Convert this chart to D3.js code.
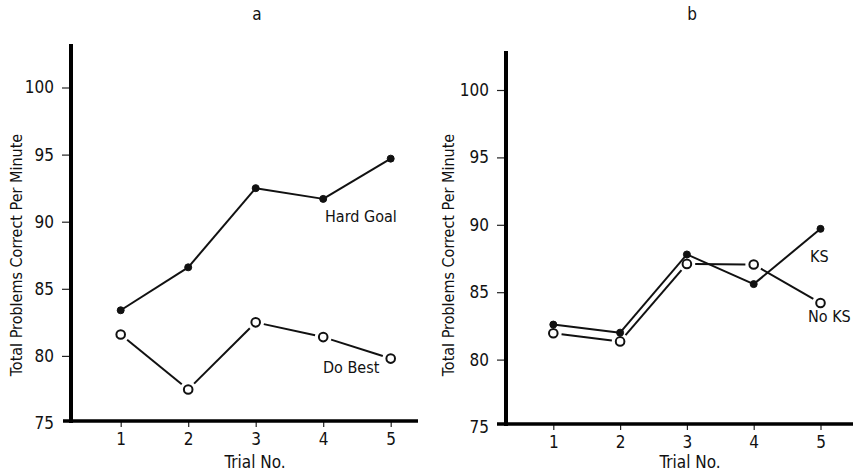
<!DOCTYPE html>
<html>
<head>
<meta charset="utf-8">
<script src="https://cdn.jsdelivr.net/npm/d3@7"></script>
<style>
  body { margin: 0; background: #fff; }
  svg text { font-family: "DejaVu Sans Condensed", "Liberation Sans Narrow", sans-serif; fill: #111; }
</style>
</head>
<body>
<div id="chart"></div>
<script>
let trials = [1, 2, 3, 4, 5];
let yTicks = [75, 80, 85, 90, 95, 100];
let hardGoal = [83.4, 86.6, 92.5, 91.7, 94.7];
let doBest = [81.6, 77.5, 82.5, 81.4, 79.8];
let ks = [82.6, 82.0, 87.8, 85.6, 89.7];
let noKs = [81.95, 81.35, 87.1, 87.05, 84.2];

let width = 853;
let height = 474;

let svg = d3.select('#chart').append('svg')
            .attr('width', width)
            .attr('height', height);

// each panel: own axis placement (scanned figure, not perfectly aligned)
let panels = [
  {title: 'a', titleX: 257, axisX: 71, top: 44, y0: 423, y1: 87.5, baseY: 421,
   xStart: 63, xEnd: 418, x1: 120.7, x5: 390.7, yTitleX: 16, trialX: 255,
   series: [
     {vals: hardGoal, open: false, label: 'Hard Goal', lx: 325, ly: 222},
     {vals: doBest, open: true, label: 'Do Best', lx: 323, ly: 373}
   ]},
  {title: 'b', titleX: 692, axisX: 506, top: 51, y0: 427, y1: 90, baseY: 424,
   xStart: 497, xEnd: 853, x1: 553.3, x5: 820.5, yTitleX: 448, trialX: 690,
   series: [
     {vals: ks, open: false, label: 'KS', lx: 810, ly: 262},
     {vals: noKs, open: true, label: 'No KS', lx: 808, ly: 322}
   ]}
];

panels.forEach(p => {
  let x = d3.scaleLinear().domain([1, 5]).range([p.x1, p.x5]);
  let y = d3.scaleLinear().domain([75, 100]).range([p.y0, p.y1]);
  let g = svg.append('g');

  g.append('text')
    .attr('x', p.titleX).attr('y', 20)
    .attr('text-anchor', 'middle')
    .attr('font-size', 17)
    .text(p.title);

  // y axis
  let yAxis = g.append('g')
    .attr('transform', `translate(${p.axisX - 2},0)`)
    .call(d3.axisLeft(y).tickValues(yTicks).tickSize(7).tickPadding(8));
  yAxis.select('.domain').remove();
  yAxis.selectAll('.tick line').attr('stroke', '#222').attr('stroke-width', 1.2);
  yAxis.selectAll('.tick').filter(d => d == 75).select('line').remove();
  yAxis.selectAll('.tick text').attr('font-size', 17).attr('fill', '#111');

  // x axis
  let xAxis = g.append('g')
    .attr('transform', `translate(0,${p.baseY + 1})`)
    .call(d3.axisBottom(x).tickValues(trials).tickFormat(d3.format('d'))
            .tickSize(5).tickPadding(6));
  xAxis.select('.domain').remove();
  xAxis.selectAll('.tick line').attr('stroke', '#222').attr('stroke-width', 1.2);
  xAxis.selectAll('.tick text').attr('font-size', 17).attr('fill', '#111');

  g.append('line')
    .attr('x1', p.axisX).attr('x2', p.axisX)
    .attr('y1', p.top).attr('y2', p.baseY + 2)
    .attr('stroke', '#000').attr('stroke-width', 4);
  g.append('line')
    .attr('x1', p.xStart).attr('x2', p.xEnd)
    .attr('y1', p.baseY).attr('y2', p.baseY)
    .attr('stroke', '#000').attr('stroke-width', 3.5);

  g.append('text')
    .attr('transform', `translate(${p.yTitleX},255) rotate(-90)`)
    .attr('text-anchor', 'middle')
    .attr('dominant-baseline', 'central')
    .attr('font-size', 16)
    .text('Total Problems Correct Per Minute');

  g.append('text')
    .attr('x', p.trialX).attr('y', 468)
    .attr('text-anchor', 'middle')
    .attr('font-size', 17)
    .text('Trial No.');

  p.series.forEach(s => {
    let pts = s.vals.map((v, i) => [x(trials[i]), y(v)]);
    let r = s.open ? 4.3 : 3.5;
    let gap = s.open ? r + 4 : 0;
    let segs = d3.pairs(pts).map(([a, b]) => {
      let dx = b[0] - a[0], dy = b[1] - a[1];
      let len = Math.hypot(dx, dy);
      let ux = dx / len, uy = dy / len;
      return [a[0] + ux * gap, a[1] + uy * gap, b[0] - ux * gap, b[1] - uy * gap];
    });
    g.selectAll(null).data(segs).join('line')
      .attr('x1', d => d[0]).attr('y1', d => d[1])
      .attr('x2', d => d[2]).attr('y2', d => d[3])
      .attr('stroke', '#111').attr('stroke-width', 2);
    g.selectAll(null).data(pts).join('circle')
      .attr('cx', d => d[0]).attr('cy', d => d[1])
      .attr('r', r)
      .attr('fill', s.open ? '#fff' : '#111')
      .attr('stroke', '#111')
      .attr('stroke-width', s.open ? 2 : 1);
    g.append('text')
      .attr('x', s.lx).attr('y', s.ly)
      .attr('font-size', 16)
      .text(s.label);
  });
});
</script>
</body>
</html>
